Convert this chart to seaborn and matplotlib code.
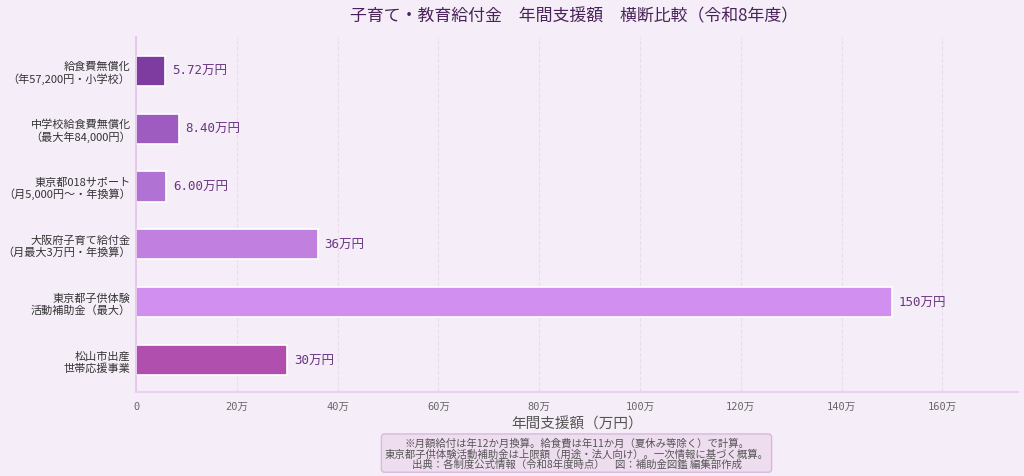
import seaborn as sns
import matplotlib.pyplot as plt
import pandas as pd
from matplotlib.ticker import FuncFormatter

# データ（万円）
labels = ['給食費無償化\n（年57,200円・小学校）',
          '中学校給食費無償化\n（最大年84,000円）',
          '東京都018サポート\n（月5,000円〜・年換算）',
          '大阪府子育て給付金\n（月最大3万円・年換算）',
          '東京都子供体験\n活動補助金（最大）',
          '松山市出産\n世帯応援事業']
values = [5.72, 8.40, 6.00, 36, 150, 30]
value_texts = ['5.72万円', '8.40万円', '6.00万円', '36万円', '150万円', '30万円']
colors = ['#7E3BA0', '#9F5CC0', '#B173D3', '#C17FE0', '#D190F0', '#B04FAE']
xticks = [0, 20, 40, 60, 80, 100, 120, 140, 160]

bg = '#F5EEF8'
jp = ['Noto Sans CJK JP', 'DejaVu Sans']
mono = ['DejaVu Sans Mono', 'Noto Sans CJK JP']

sns.set_theme(style='white')
plt.rcParams['font.family'] = jp

df = pd.DataFrame({'label': labels, 'value': values})

fig = plt.figure(figsize=(10.24, 4.77), dpi=100, facecolor=bg)
ax = fig.add_axes([0.133, 0.176, 0.861, 0.744])
ax.set_facecolor(bg)

sns.barplot(data=df, x='value', y='label', hue='label', palette=colors,
            orient='h', width=0.52, edgecolor='white', linewidth=1.2,
            saturation=1, legend=False, ax=ax)

for i, (v, t) in enumerate(zip(values, value_texts)):
    ax.text(v + 1.4, i, t, va='center', ha='left', fontsize=9,
            color='#6A3480', family=mono)

ax.set_xlim(0, 175)
ax.set_ylim(5.55, -0.58)
ax.set_xticks(xticks)
ax.xaxis.set_major_formatter(FuncFormatter(lambda x, p: '0' if x == 0 else f'{int(x)}万'))
for lb in ax.get_xticklabels():
    lb.set_family(mono)
for lb in ax.get_yticklabels():
    lb.set_multialignment('right')
    lb.set_linespacing(1.1)
ax.tick_params(axis='x', labelsize=7.5, colors='#666666', length=3, width=0.8)
ax.tick_params(axis='y', labelsize=8, labelcolor='#333333', length=0, pad=4)
ax.grid(axis='x', linestyle='--', color='#EADCEC', linewidth=0.8)
ax.set_axisbelow(True)

for s in ['top', 'right']:
    ax.spines[s].set_visible(False)
ax.spines['left'].set_color('#E6C4EC')
ax.spines['bottom'].set_color('#EAD2EE')
ax.spines['bottom'].set_linewidth(1.5)

ax.set_ylabel('')
ax.set_xlabel('年間支援額（万円）', fontsize=10.5, color='#555555', labelpad=4)
fig.suptitle('子育て・教育給付金　年間支援額　横断比較（令和8年度）',
             x=0.561, y=0.985, fontsize=12.2, color='#4A235A')

note = ('※月額給付は年12か月換算。給食費は年11か月（夏休み等除く）で計算。\n'
        '東京都子供体験活動補助金は上限額（用途・法人向け）。一次情報に基づく概算。\n'
        '出典：各制度公式情報（令和8年度時点）　図：補助金図鑑 編集部作成')
fig.text(0.563, 0.048, note, ha='center', va='center', fontsize=7.5,
         color='#555555', linespacing=1.05,
         bbox=dict(boxstyle='round,pad=0.3', facecolor='#EEDDEE',
                   edgecolor='#D9B8DC', linewidth=1))

fig.savefig('out.png', dpi=100, facecolor=bg)
